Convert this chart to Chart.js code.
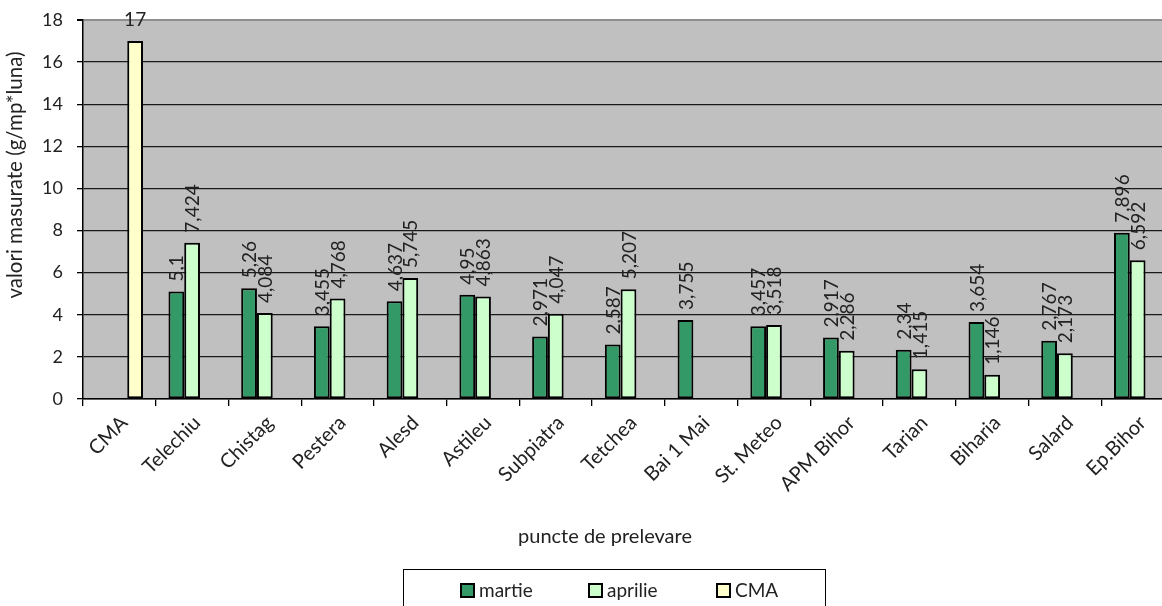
<!DOCTYPE html>
<html>
<head>
<meta charset="utf-8">
<script src="https://cdn.jsdelivr.net/npm/chart.js@4/dist/chart.umd.min.js"></script>
<style>
  html, body { margin: 0; padding: 0; background: #ffffff; overflow: hidden; }
  #wrap { width: 1180px; height: 606px; }
</style>
</head>
<body>
<div id="wrap"><canvas id="c" width="1180" height="606"></canvas></div>
<script>
const categories = ["CMA", "Telechiu", "Chistag", "Pestera", "Alesd", "Astileu", "Subpiatra", "Tetchea", "Bai 1 Mai", "St. Meteo", "APM Bihor", "Tarian", "Biharia", "Salard", "Ep.Bihor"];
const martie  = [null, 5.1, 5.26, 3.455, 4.637, 4.95, 2.971, 2.587, 3.755, 3.457, 2.917, 2.34, 3.654, 2.767, 7.896];
const aprilie = [null, 7.424, 4.084, 4.768, 5.745, 4.863, 4.047, 5.207, null, 3.518, 2.286, 1.415, 1.146, 2.173, 6.592];
const cma     = [17, null, null, null, null, null, null, null, null, null, null, null, null, null, null];
const yTicks  = [0, 2, 4, 6, 8, 10, 12, 14, 16, 18];
const seriesNames = ["martie", "aprilie", "CMA"];
const yTitle = "valori masurate (g/mp*luna)";
const xTitle = "puncte de prelevare";

const TXT = '#222222';
Chart.defaults.font.family = 'Lato, "Open Sans", sans-serif';
Chart.defaults.color = TXT;

const bgPlugin = {
  id: 'plotBg',
  beforeDraw(chart) {
    const a = chart.chartArea, ctx = chart.ctx;
    ctx.save();
    ctx.fillStyle = '#C0C0C0';
    ctx.fillRect(a.left, a.top, a.right - a.left, a.bottom - a.top);
    ctx.restore();
  }
};

const labelPlugin = {
  id: 'valueLabels',
  afterDatasetsDraw(chart) {
    const ctx = chart.ctx;
    ctx.save();
    ctx.fillStyle = TXT;
    chart.data.datasets.forEach((ds, di) => {
      const meta = chart.getDatasetMeta(di);
      meta.data.forEach((bar, i) => {
        const v = ds.data[i];
        if (v === null || v === undefined) return;
        const txt = String(v).replace('.', ',');
        ctx.font = '19px Lato';
        if (di === 2) {
          ctx.textAlign = 'center';
          ctx.textBaseline = 'middle';
          ctx.fillText(txt, bar.x, bar.y - 21);
        } else {
          ctx.save();
          ctx.translate(bar.x + 1, bar.y - 10);
          ctx.rotate(-Math.PI / 2);
          ctx.textAlign = 'left';
          ctx.textBaseline = 'middle';
          ctx.fillText(txt, 0, 0);
          ctx.restore();
        }
      });
    });
    ctx.restore();
  }
};

const extrasPlugin = {
  id: 'extras',
  afterDraw(chart) {
    const ctx = chart.ctx;
    // y axis title
    ctx.save();
    ctx.fillStyle = TXT;
    ctx.font = '20.5px Lato';
    ctx.translate(15, 175);
    ctx.rotate(-Math.PI / 2);
    ctx.textAlign = 'center';
    ctx.textBaseline = 'middle';
    ctx.fillText(yTitle, 0, 0);
    ctx.restore();

    // x axis title
    ctx.save();
    ctx.fillStyle = TXT;
    ctx.font = '20px Lato';
    ctx.textAlign = 'center';
    ctx.textBaseline = 'middle';
    ctx.fillText(xTitle, 605, 537);
    ctx.restore();

    // legend box
    ctx.save();
    ctx.strokeStyle = '#000';
    ctx.lineWidth = 1;
    ctx.strokeRect(403.5, 569.5, 422, 60);
    ctx.font = '19px Lato';
    ctx.textAlign = 'left';
    ctx.textBaseline = 'middle';
    chart.data.datasets.forEach((ds, i) => {
      const x = 461 + i * 128;
      const y = 584;
      ctx.fillStyle = ds.backgroundColor;
      ctx.fillRect(x, y, 13, 13);
      ctx.lineWidth = 2;
      ctx.strokeStyle = '#000';
      ctx.strokeRect(x, y, 13, 13);
      ctx.fillStyle = TXT;
      ctx.fillText(ds.label, x + 18, y + 6.5);
    });
    ctx.restore();
  }
};

new Chart(document.getElementById('c'), {
  type: 'bar',
  data: {
    labels: categories,
    datasets: [
      { label: seriesNames[0], data: martie, backgroundColor: '#339966' },
      { label: seriesNames[1], data: aprilie, backgroundColor: '#CCFFCC' },
      { label: seriesNames[2], data: cma, backgroundColor: '#FFFFCC' }
    ]
  },
  options: {
    responsive: false,
    animation: false,
    devicePixelRatio: 1,
    layout: { padding: { left: 0, top: 20, right: 6, bottom: 0 } },
    datasets: {
      bar: {
        borderColor: '#000000',
        borderWidth: 2,
        borderSkipped: false,
        categoryPercentage: 0.65,
        barPercentage: 1.0
      }
    },
    plugins: {
      legend: { display: false },
      tooltip: { enabled: false },
      title: { display: false }
    },
    scales: {
      x: {
        grid: {
          display: true,
          drawOnChartArea: false,
          drawTicks: true,
          tickLength: 7,
          color: '#000',
          lineWidth: 1.3,
          offset: true
        },
        border: { display: true, color: '#000', width: 1.5 },
        ticks: {
          minRotation: 45,
          maxRotation: 45,
          autoSkip: false,
          padding: 5,
          labelOffset: 5,
          font: { size: 20 },
          color: TXT
        },
        title: { display: false },
        afterFit(scale) {
          scale.height = 207;
          scale.paddingLeft = 0;
          scale.paddingRight = 0;
        }
      },
      y: {
        min: 0,
        max: 18,
        afterBuildTicks(scale) { scale.ticks = yTicks.map(v => ({ value: v })); },
        grid: {
          color: (c) => (c.tick && c.tick.value === 18) ? '#8e8e8e' : '#1a1a1a',
          lineWidth: (c) => (c.tick && c.tick.value === 18) ? 2 : 1.3,
          tickColor: '#000',
          tickLength: 6,
          drawTicks: true
        },
        border: { display: true, color: '#000', width: 1.5 },
        ticks: {
          padding: 14,
          font: { size: 18 },
          color: TXT
        },
        afterFit(scale) {
          scale.width = 83;
          scale.paddingTop = 0;
          scale.paddingBottom = 0;
        }
      }
    }
  },
  plugins: [bgPlugin, labelPlugin, extrasPlugin]
});
</script>
</body>
</html>
